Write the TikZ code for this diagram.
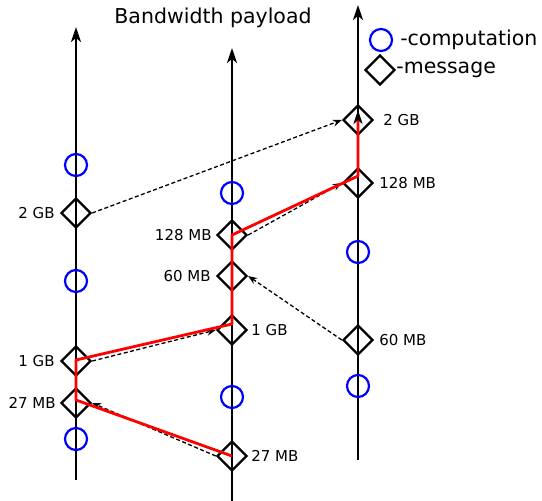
\documentclass[tikz,border=0pt]{standalone}
\usepackage{fontspec}
\setmainfont{DejaVu Sans}
\usetikzlibrary{arrows.meta,shapes.geometric}
\begin{document}
\begin{tikzpicture}[x=1pt,y=-1pt,
 axis/.style={line width=2.4pt,-{Stealth[length=15pt,width=10pt,inset=4pt]}},
 comp/.style={circle,draw=blue,line width=2.2pt,minimum size=22pt,inner sep=0pt},
 msg/.style={diamond,draw=black,line width=2.4pt,minimum width=30pt,minimum height=30pt,inner sep=0pt},
 lbl/.style={font=\fontsize{15}{18}\selectfont,inner sep=0pt},
 big/.style={font=\fontsize{20.5}{24}\selectfont,inner sep=0pt},
 msgarrow/.style={line width=1.3pt,dash pattern=on 4pt off 2.5pt,-{Stealth[length=9pt,width=7pt,inset=3pt]}},
 crit/.style={red,line width=2.8pt,line join=round,-{Stealth[black,length=14pt,width=9pt,inset=4pt]}}
]
\useasboundingbox (0,0) rectangle (542,501);
% axes
\coordinate (L0) at (76,480); \coordinate (L1) at (76,27);
\coordinate (M0) at (232,501); \coordinate (M1) at (232,48);
\coordinate (R0) at (358,460); \coordinate (R1) at (358,5);
\draw[axis] (L0) -- (L1);
\draw[axis] (M0) -- (M1);
\draw[axis] (R0) -- (R1);
% left column
\node[comp] (lc1) at (76,165) {};
\node[msg] (l2gb) at (76,213) {};
\node[comp] (lc2) at (76,281) {};
\node[msg] (l1gb) at (76,361) {};
\node[msg] (l27) at (76,403) {};
\node[comp] (lc3) at (76,439) {};
% middle column
\node[comp] (mc1) at (232,193) {};
\node[msg] (m128) at (232,235) {};
\node[msg] (m60) at (232,276) {};
\node[msg] (m1gb) at (232,330) {};
\node[comp] (mc2) at (232,397) {};
\node[msg] (m27) at (232,456) {};
% right column
\node[msg] (r2gb) at (358,120) {};
\node[msg] (r128) at (358,183) {};
\node[comp] (rc1) at (358,252) {};
\node[msg] (r60) at (358,340) {};
\node[comp] (rc2) at (358,386) {};
% labels
\node[lbl,anchor=east] (tl2gb) at ([xshift=-5pt]l2gb.west) {2 GB};
\node[lbl,anchor=east] (tl1gb) at ([xshift=-5pt]l1gb.west) {1 GB};
\node[lbl,anchor=east] (tl27) at ([xshift=-4pt]l27.west) {27 MB};
\node[lbl,anchor=east] (tm128) at ([xshift=-4pt]m128.west) {128 MB};
\node[lbl,anchor=east] (tm60) at ([xshift=-5pt]m60.west) {60 MB};
\node[lbl,anchor=west] (tm1gb) at ([xshift=3pt]m1gb.east) {1 GB};
\node[lbl,anchor=west] (tm27) at ([xshift=3pt]m27.east) {27 MB};
\node[lbl,anchor=west] (tr2gb) at ([xshift=9pt]r2gb.east) {2 GB};
\node[lbl,anchor=west] (tr128) at ([xshift=5pt]r128.east) {128 MB};
\node[lbl,anchor=west] (tr60) at ([xshift=5pt]r60.east) {60 MB};
% messages
\draw[msgarrow] (l2gb.east) -- (r2gb.west);
\draw[msgarrow] (l1gb.east) -- (m1gb.west);
\draw[msgarrow] (m27.west) -- (l27.east);
\draw[msgarrow] (m128.east) -- (r128.west);
\draw[msgarrow] (r60.west) -- (m60.east);
% critical path
\coordinate (tipend) at (358,110);
\draw[crit] (m27.center) -- ([yshift=3pt]l27.center) -- ([yshift=1pt]l1gb.center)
  -- ([yshift=6pt]m1gb.center) -- (m128.center) -- ([yshift=7pt]r128.center) -- (tipend);
% title and legend
\node[big] (title) at (213,18) {Bandwidth payload};
\node[comp] (legc) at (381,40) {};
\node[big,anchor=west] (legct) at ([xshift=7pt]legc.east) {-computation};
\node[msg] (legm) at (380,70) {};
\node[big,anchor=west] (legmt) at ([xshift=0pt]legm.east) {-message};
\end{tikzpicture}
\end{document}
